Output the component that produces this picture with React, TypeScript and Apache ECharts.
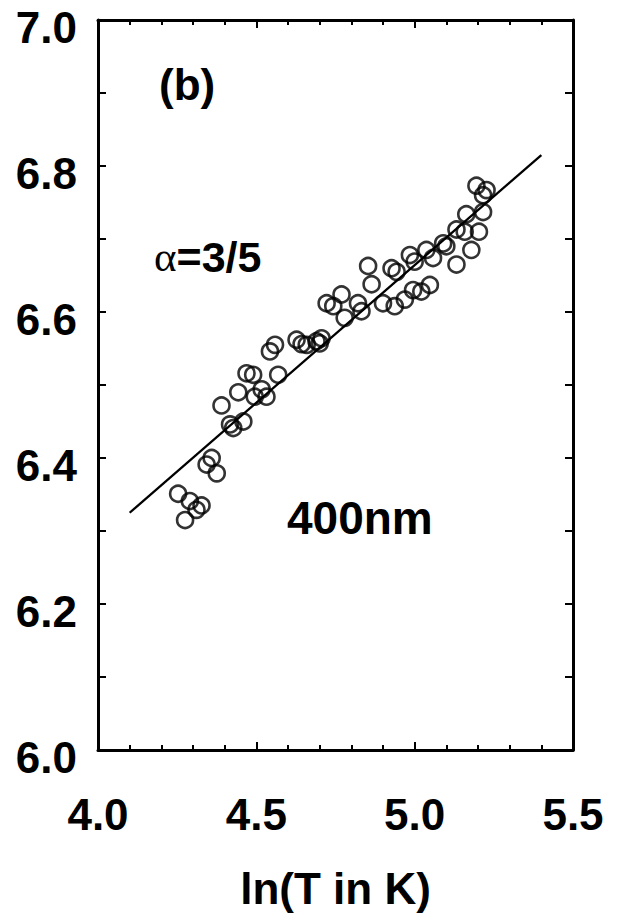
import React, { useEffect, useRef } from "react";
import * as echarts from "echarts";

const xValues = [4.253, 4.290, 4.327, 4.311, 4.275, 4.359, 4.343, 4.375, 4.390, 4.417, 4.427, 4.459, 4.443, 4.495, 4.517, 4.532, 4.469, 4.490, 4.569, 4.543, 4.559, 4.627, 4.643, 4.659, 4.690, 4.706, 4.700, 4.722, 4.743, 4.769, 4.779, 4.821, 4.832, 4.853, 4.864, 4.900, 4.927, 4.943, 4.937, 4.969, 4.995, 5.021, 5.048, 4.985, 5.000, 5.037, 5.058, 5.090, 5.100, 5.132, 5.132, 5.158, 5.203, 5.179, 5.163, 5.216, 5.195, 5.227, 5.216];
const yValues = [6.351, 6.341, 6.335, 6.329, 6.315, 6.400, 6.391, 6.379, 6.472, 6.446, 6.441, 6.450, 6.490, 6.484, 6.494, 6.484, 6.516, 6.514, 6.514, 6.546, 6.555, 6.562, 6.556, 6.555, 6.560, 6.564, 6.557, 6.612, 6.608, 6.624, 6.592, 6.612, 6.601, 6.663, 6.638, 6.612, 6.660, 6.655, 6.608, 6.617, 6.630, 6.628, 6.637, 6.678, 6.669, 6.685, 6.674, 6.694, 6.690, 6.713, 6.665, 6.710, 6.710, 6.685, 6.734, 6.737, 6.773, 6.767, 6.760];
const fitX = [4.1, 5.4];
const fitY = [6.325, 6.815];

const xAxisTitle = "ln(T in K)";
const panelLabel = "(b)";
const alphaLabel = "3/5";
const sampleLabel = "400nm";

const FONT = "'Liberation Sans', Arial, sans-serif";

export default function App() {
  const ref = useRef<HTMLDivElement>(null);
  useEffect(() => {
    if (!ref.current) return;
    const chart = echarts.init(ref.current, null, { renderer: "svg" });
    const points = xValues.map((x, i) => [x, yValues[i]]);
    const fit = fitX.map((x, i) => [x, fitY[i]]);
    const axisLine = { show: true, lineStyle: { color: "#000", width: 3 } };
    chart.setOption({
      animation: false,
      backgroundColor: "#fff",
      grid: { left: 98, right: 45, top: 20, bottom: 172, containLabel: false },
      xAxis: [
        {
          type: "value",
          min: 4,
          max: 5.5,
          interval: 0.5,
          position: "bottom",
          axisLine,
          axisTick: { show: true, inside: true, length: 8, lineStyle: { color: "#000", width: 2 } },
          minorTick: { show: true, splitNumber: 5, length: 5, lineStyle: { color: "#000", width: 2 } },
          splitLine: { show: false },
          axisLabel: {
            show: true,
            margin: 42,
            color: "#000",
            fontSize: 44,
            fontWeight: "bold",
            fontFamily: FONT,
            formatter: (v: number) => v.toFixed(1),
          },
          name: xAxisTitle,
          nameLocation: "middle",
          nameGap: 116,
          nameTextStyle: { color: "#000", fontSize: 44, fontWeight: "bold", fontFamily: FONT },
        },
        {
          type: "value",
          min: 4,
          max: 5.5,
          interval: 0.5,
          position: "top",
          axisLine,
          axisTick: { show: true, inside: true, length: 8, lineStyle: { color: "#000", width: 2 } },
          minorTick: { show: true, splitNumber: 5, length: 5, lineStyle: { color: "#000", width: 2 } },
          splitLine: { show: false },
          axisLabel: { show: false },
        },
      ],
      yAxis: [
        {
          type: "value",
          min: 6,
          max: 7,
          interval: 0.2,
          position: "left",
          axisLine,
          axisTick: { show: true, inside: true, length: 8, lineStyle: { color: "#000", width: 2 } },
          minorTick: { show: true, splitNumber: 2, length: 8, lineStyle: { color: "#000", width: 2 } },
          splitLine: { show: false },
          axisLabel: {
            show: true,
            margin: 21,
            color: "#000",
            fontSize: 44,
            fontWeight: "bold",
            fontFamily: FONT,
            verticalAlign: "top",
            lineHeight: 14,
            formatter: (v: number) => v.toFixed(1),
          },
        },
        {
          type: "value",
          min: 6,
          max: 7,
          interval: 0.2,
          position: "right",
          axisLine,
          axisTick: { show: true, inside: true, length: 8, lineStyle: { color: "#000", width: 2 } },
          minorTick: { show: true, splitNumber: 2, length: 8, lineStyle: { color: "#000", width: 2 } },
          splitLine: { show: false },
          axisLabel: { show: false },
        },
      ],
      series: [
        {
          type: "line",
          data: fit,
          xAxisIndex: 0,
          yAxisIndex: 0,
          showSymbol: false,
          symbol: "none",
          lineStyle: { color: "#000", width: 2.3 },
          z: 2,
        },
        {
          type: "scatter",
          data: points,
          xAxisIndex: 0,
          yAxisIndex: 0,
          symbol: "circle",
          symbolSize: 16,
          itemStyle: { color: "rgba(0,0,0,0)", borderColor: "#000", borderWidth: 2.6 },
          z: 3,
        },
      ],
      graphic: [
        {
          type: "text",
          left: 159,
          top: 62,
          style: { text: panelLabel, fill: "#000", font: `bold 44px ${FONT}` },
        },
        {
          type: "text",
          left: 154,
          top: 235,
          style: {
            text: "{a|α}{b|=" + alphaLabel + "}",
            rich: {
              a: { fill: "#000", fontSize: 43, fontFamily: "'Liberation Serif', 'Times New Roman', serif" },
              b: { fill: "#000", fontSize: 43, fontWeight: "bold", fontFamily: FONT },
            },
          },
        },
        {
          type: "text",
          left: 287,
          top: 495,
          style: { text: sampleLabel, fill: "#000", font: `bold 46px ${FONT}` },
        },
      ],
    });
    return () => chart.dispose();
  }, []);
  return (
    <div
      ref={ref}
      style={{ position: "fixed", left: 0, top: 0, width: 618, height: 922, background: "#fff" }}
    />
  );
}
